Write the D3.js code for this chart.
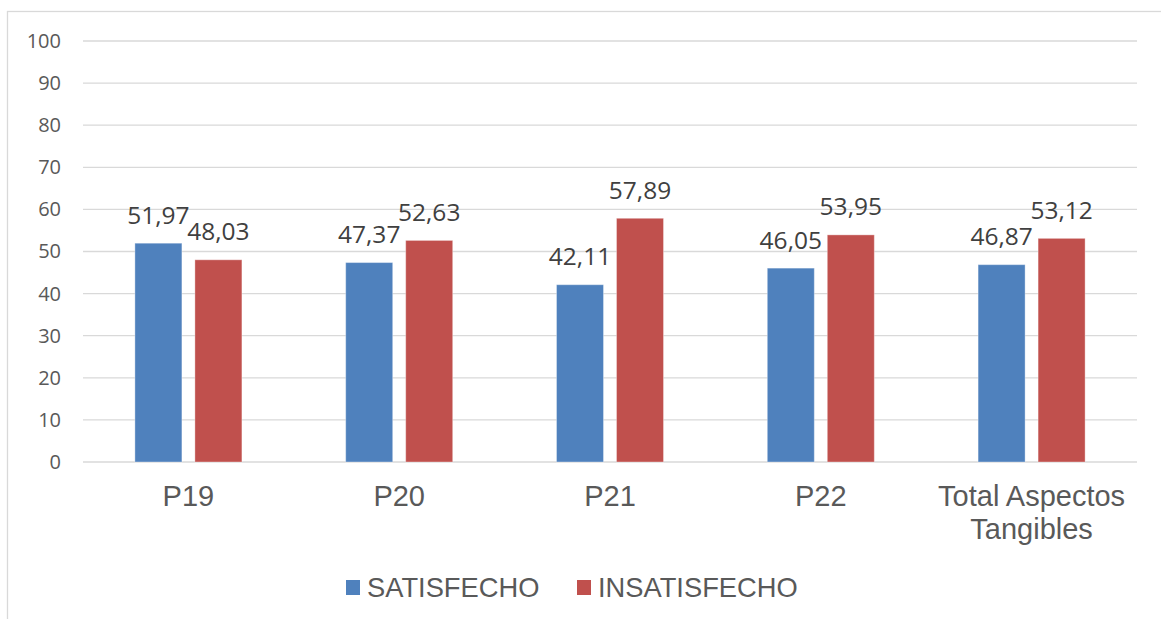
<!DOCTYPE html>
<html>
<head>
<meta charset="utf-8">
<script src="https://cdn.jsdelivr.net/npm/d3@7"></script>
<style>
  body { margin: 0; background: #fff; }
  svg { display: block; }
</style>
</head>
<body>
<div id="chart"></div>
<script>
// Data
const categories = ["P19", "P20", "P21", "P22", "Total Aspectos Tangibles"];
const categoryLines = [["P19"], ["P20"], ["P21"], ["P22"], ["Total Aspectos", "Tangibles"]];
const seriesNames = ["SATISFECHO", "INSATISFECHO"];
const satisfecho = [51.97, 47.37, 42.11, 46.05, 46.87];
const insatisfecho = [48.03, 52.63, 57.89, 53.95, 53.12];
const yTicks = [0, 10, 20, 30, 40, 50, 60, 70, 80, 90, 100];
const colors = ["#4F81BD", "#C0504D"];

(function() {
    const W = 1161, H = 619;
    const plot = {left: 83, right: 1137, top: 41, bottom: 462};

    const svg = d3.select("#chart")
        .append("svg")
        .attr("width", W)
        .attr("height", H);

    // chart frame (runs off the right and bottom edges in the original)
    svg.append("rect")
        .attr("x", 7.5).attr("y", 11.5)
        .attr("width", W + 20).attr("height", H + 20)
        .attr("fill", "#fff")
        .attr("stroke", "#D9D9D9")
        .attr("stroke-width", 1.3);

    const x = d3.scaleBand()
        .domain(categories)
        .range([plot.left, plot.right])
        .paddingInner(0.4924)
        .paddingOuter(0.2462);

    const xs = d3.scaleBand()
        .domain(seriesNames)
        .range([0, x.bandwidth()])
        .paddingInner(0.2167);

    const y = d3.scaleLinear()
        .domain([0, 100])
        .range([plot.bottom, plot.top]);

    // gridlines
    svg.append("g")
        .selectAll("line")
        .data(yTicks)
        .enter()
        .append("line")
        .attr("x1", plot.left)
        .attr("x2", plot.right)
        .attr("y1", d => y(d))
        .attr("y2", d => y(d))
        .attr("stroke", "#D9D9D9")
        .attr("stroke-width", 1.3);

    // y axis labels
    const yAxis = d3.axisLeft(y)
        .tickValues(yTicks)
        .tickSize(0)
        .tickPadding(22);
    const yg = svg.append("g")
        .attr("transform", `translate(${plot.left}, 0)`)
        .call(yAxis);
    yg.select(".domain").remove();
    yg.selectAll("text")
        .attr("font-family", "'Open Sans', sans-serif")
        .attr("font-size", 20)
        .attr("fill", "#595959");

    const rows = categories.map((c, i) => ({
        cat: c,
        values: [satisfecho[i], insatisfecho[i]]
    }));

    const fmt = d3.formatLocale({decimal: ",", thousands: ".", grouping: [3], currency: ["", ""]}).format(".2f");

    const groups = svg.append("g")
        .selectAll("g")
        .data(rows)
        .enter()
        .append("g")
        .attr("transform", d => `translate(${x(d.cat)}, 0)`);

    const bars = groups.selectAll("g")
        .data(d => d.values.map((v, j) => ({name: seriesNames[j], value: v, j: j})))
        .enter()
        .append("g");

    bars.append("rect")
        .attr("x", d => xs(d.name))
        .attr("y", d => y(d.value))
        .attr("width", xs.bandwidth())
        .attr("height", d => y(0) - y(d.value))
        .attr("fill", d => colors[d.j])
        .attr("stroke", "#fff")
        .attr("stroke-opacity", 0.35)
        .attr("stroke-width", 1);

    bars.append("text")
        .attr("x", d => xs(d.name) + xs.bandwidth() / 2)
        .attr("y", d => y(d.value) - 19.5)
        .attr("text-anchor", "middle")
        .attr("font-family", "'Open Sans', sans-serif")
        .attr("font-size", 24.5)
        .attr("fill", "#404040")
        .text(d => fmt(d.value));

    // category labels
    const xl = svg.append("g")
        .selectAll("text")
        .data(categories)
        .enter()
        .append("text")
        .attr("x", d => x(d) + x.bandwidth() / 2)
        .attr("y", 506)
        .attr("text-anchor", "middle")
        .attr("font-family", "'Liberation Sans', Arial, sans-serif")
        .attr("font-size", 29)
        .attr("fill", "#595959");
    xl.selectAll("tspan")
        .data((d, i) => categoryLines[i].map(t => ({t: t, x: x(d) + x.bandwidth() / 2})))
        .enter()
        .append("tspan")
        .attr("x", d => d.x)
        .attr("dy", (d, k) => k === 0 ? 0 : 33)
        .text(d => d.t);

    // legend
    const legendItems = [
        {name: seriesNames[0], color: colors[0], x: 346},
        {name: seriesNames[1], color: colors[1], x: 577}
    ];
    const lg = svg.append("g")
        .selectAll("g")
        .data(legendItems)
        .enter()
        .append("g")
        .attr("transform", d => `translate(${d.x}, 580)`);
    lg.append("rect")
        .attr("width", 14)
        .attr("height", 15)
        .attr("fill", d => d.color);
    lg.append("text")
        .attr("x", 21)
        .attr("y", 17)
        .attr("font-family", "'Liberation Sans', Arial, sans-serif")
        .attr("font-size", 27.3)
        .attr("fill", "#595959")
        .text(d => d.name);
})();
</script>
</body>
</html>
